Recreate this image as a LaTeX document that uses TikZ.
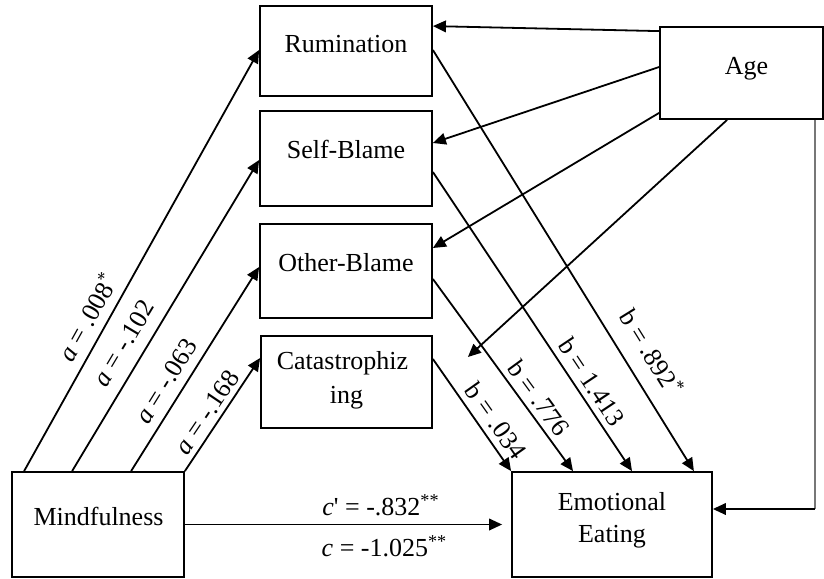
\documentclass[tikz,border=0pt]{standalone}
\usepackage{fontspec}
\setmainfont{Liberation Serif}
\usetikzlibrary{arrows.meta,calc}
\definecolor{lgray}{HTML}{777777}
\begin{document}
\begin{tikzpicture}[x=0.5pt,y=-0.5pt,
  box/.style={draw, line width=0.9pt, rectangle, inner sep=0pt},
  lbl/.style={font=\fontsize{13}{16}\selectfont, inner sep=0pt, anchor=base},
  coef/.style={font=\fontsize{13}{16}\selectfont, inner sep=0pt},
  arr/.style={line width=0.9pt, -{Triangle[length=6.5pt,width=5.8pt]}},
  ]
\useasboundingbox (0,0) rectangle (824,578);
% boxes
\node[box, minimum width=86pt, minimum height=45pt] (rum) at (346,51) {};
\node[box, minimum width=86pt, minimum height=47.5pt] (sb) at (346,158.5) {};
\node[box, minimum width=86pt, minimum height=47pt] (ob) at (346,271) {};
\node[box, minimum width=85.5pt, minimum height=46pt] (cat) at (346.5,382) {};
\node[box, minimum width=86pt, minimum height=52.5pt] (mind) at (98,524.5) {};
\node[box, minimum width=100pt, minimum height=52.5pt] (ee) at (612,524.5) {};
\node[box, minimum width=81.5pt, minimum height=46pt] (age) at (741.5,73) {};
% box texts
\node[lbl] (trum) at (346,52) {Rumination};
\node[lbl] (tsb) at (346,158) {Self-Blame};
\node[lbl] (tob) at (346,271) {Other-Blame};
\node[lbl] (tcat1) at (342.5,369) {Catastrophiz};
\node[lbl] (tcat2) at (346.5,403) {ing};
\node[lbl] (tmind) at (98.5,525) {Mindfulness};
\node[lbl] (tee1) at (612,510) {Emotional};
\node[lbl] (tee2) at (612,542) {Eating};
\node[lbl] (tage) at (746.5,74) {Age};
% a paths
\draw[arr] ($(mind.north west)+(13,0)$) -- ($(rum.west)+(0,-1)$);
\draw[arr] ($(mind.north west)+(61,0)$) -- ($(sb.west)+(0,1.5)$);
\draw[arr] ($(mind.north west)+(120,0)$) -- ($(ob.west)+(0,-4)$);
\draw[arr] (mind.north east) -- ($(cat.west)+(0,-24)$);
% c path
\draw[arr, shorten >=4.5pt] (mind.east) -- (ee.west);
% b paths
\draw[arr] ($(rum.east)+(0,-1)$) -- ($(ee.north east)+(-19,0)$);
\draw[arr] ($(sb.east)+(0,13.5)$) -- ($(ee.north)+(20,0)$);
\draw[arr] ($(ob.east)+(0,8)$) -- ($(ee.north)+(-39,0)$);
\draw[arr] ($(cat.east)+(0,-23)$) -- (ee.north west);
% age paths
\coordinate (catend) at ($(cat.east)+(35,-25)$);
\draw[arr] ($(age.north west)+(0,5)$) -- ($(rum.north east)+(0,21)$);
\draw[arr] ($(age.west)+(0,-6)$) -- ($(sb.east)+(0,-15.5)$);
\draw[arr] ($(age.south west)+(0,-7)$) -- ($(ob.east)+(0,-23)$);
\draw[arr] ($(age.south west)+(68,0)$) -- (catend);
\coordinate (ageA) at ($(age.south east)+(-9,0)$);
\coordinate (eeA) at ($(ee.east)+(0,-15.5)$);
\coordinate (corner) at (ageA |- eeA);
\draw[lgray, line width=0.9pt] (ageA) -- (corner);
\draw[arr] (corner) -- (eeA);
% coefficient labels
\node[coef, rotate=60.9] (la1) at (87,317) {\textit{a} = .008\textsuperscript{*}};
\node[coef, rotate=59.1] (la2) at (124,343) {\textit{a} = -.102};
\node[coef, rotate=58.1] (la3) at (166,381) {\textit{a} = -.063};
\node[coef, rotate=56.0] (la4) at (207,412) {\textit{a} = -.168};
\node[coef, rotate=-58.2] (lb1) at (652,352) {b = .892\textsuperscript{*}};
\node[coef, rotate=-56.3] (lb2) at (592,382) {b = 1.413};
\node[coef, rotate=-53.8] (lb3) at (539,398) {b = .776};
\node[coef, rotate=-54.7] (lb4) at (496,421) {b = .034};
\node[coef] (lc1) at (381,505) {\textit{c}\textquotesingle{} = -.832\textsuperscript{**}};
\node[coef] (lc2) at (384.5,546) {\textit{c} = -1.025\textsuperscript{**}};
\end{tikzpicture}
\end{document}
